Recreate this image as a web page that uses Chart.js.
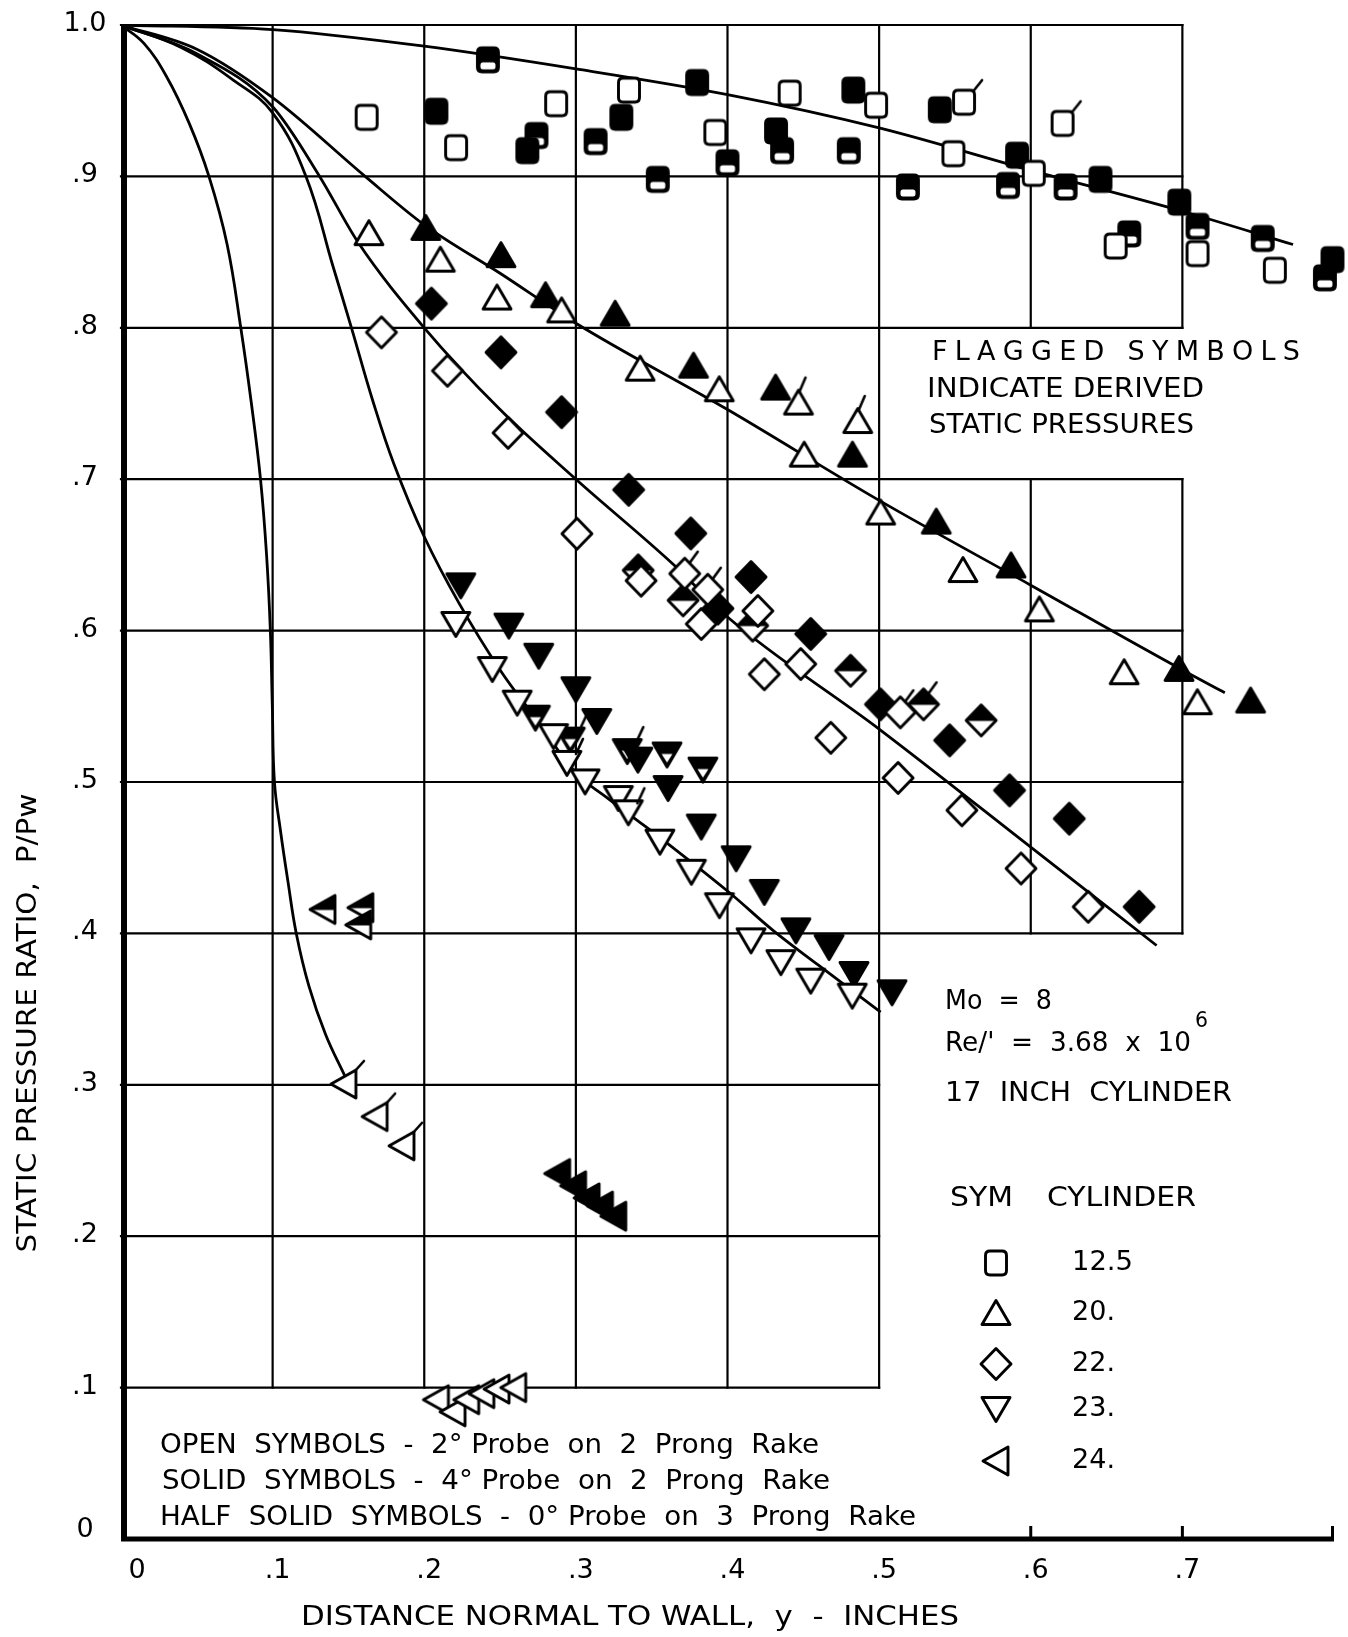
<!DOCTYPE html>
<html>
<head>
<meta charset="utf-8">
<script src="https://cdn.jsdelivr.net/npm/chart.js@4.4.0/dist/chart.umd.min.js"></script>
<style>
  html, body { margin: 0; padding: 0; background: #fff; }
  #wrap { width: 1348px; height: 1637px; position: relative; }
</style>
</head>
<body>
<div id="wrap"><canvas id="chart" width="1348" height="1637"></canvas></div>
<script>
// ---- Axis ticks ----
const xTickValues = [0, 0.1, 0.2, 0.3, 0.4, 0.5, 0.6, 0.7];
const xTickLabels = ['0', '.1', '.2', '.3', '.4', '.5', '.6', '.7'];
const yTickValues = [0, 0.1, 0.2, 0.3, 0.4, 0.5, 0.6, 0.7, 0.8, 0.9, 1.0];
const yTickLabels = ['0', '.1', '.2', '.3', '.4', '.5', '.6', '.7', '.8', '.9', '1.0'];
const cylinderLabels = ['12.5', '20.', '22.', '23.', '24.'];

// ---- Faired curves, [y (in), P/Pw] ----
const curveSquare = [[0,1],[.1,.997],[.2,.986],[.3,.971],[.4,.954],[.5,.932],[.6,.904],[.7,.877],[.773,.855]];
const curveTriUp = [[0,1],[.05,.984],[.1,.952],[.161,.9],[.2,.868],[.25,.836],[.3,.803],[.4,.746],[.5,.686],[.6,.63],[.7,.574],[.728,.559]];
const curveDiamond = [[0,1],[.05,.981],[.1,.946],[.131,.9],[.156,.857],[.2,.8],[.25,.746],[.3,.7],[.364,.644],[.4,.609],[.5,.535],[.6,.457],[.683,.392]];
const curveTriDown = [[0,1],[.04,.985],[.075,.963],[.1,.942],[.122,.9],[.14,.84],[.152,.8],[.166,.752],[.18,.71],[.2,.662],[.223,.618],[.25,.574],[.275,.54],[.3,.506],[.32,.49],[.34,.475],[.361,.459],[.4,.428],[.43,.402],[.46,.379],[.501,.348]];
const curveTriLeft = [[0,1],[.015,.988],[.03,.966],[.045,.935],[.058,.9],[.07,.855],[.079,.8],[.086,.75],[.092,.7],[.096,.65],[.0985,.6],[.0998,.55],[.1012,.5],[.1053,.467],[.11,.435],[.1156,.4],[.124,.365],[.135,.333],[.148,.305]];

// ---- Measured points: cylinder 12.5 (squares) ----
const squareOpen = [[.162,.939],[.221,.919],[.287,.948],[.335,.957],[.392,.929],[.441,.955],[.498,.947],[.549,.915],[.556,.949],[.602,.902],[.621,.935],[.656,.854],[.710,.849],[.761,.838]];
const squareOpenFlags = [8, 10];
const squareSolid = [[.208,.943],[.268,.917],[.33,.939],[.38,.962],[.432,.93],[.483,.957],[.54,.944],[.591,.914],[.646,.898],[.698,.883],[.799,.845]];
const squareHalf = [[.242,.977],[.274,.927],[.313,.923],[.354,.898],[.4,.909],[.436,.917],[.48,.917],[.519,.893],[.585,.894],[.623,.893],[.665,.862],[.710,.867],[.753,.859],[.794,.833]];

// ---- cylinder 20 (upward triangles) ----
const triUpOpen = [[.1635,.8625],[.2106,.845],[.248,.820],[.2906,.8115],[.3424,.773],[.3946,.7594],[.4468,.7506],[.4859,.7384],[.4506,.7162],[.501,.678],[.5553,.640],[.6057,.614],[.6616,.5725],[.7099,.5527]];
const triUpOpenFlags = [6, 7];
const triUpSolid = [[.201,.866],[.2506,.848],[.280,.8215],[.3259,.8093],[.3776,.775],[.4317,.7605],[.4824,.7162],[.5377,.672],[.587,.643],[.6978,.5747],[.745,.5538]];

// ---- cylinder 22 (diamonds) ----
const diamondOpen = [[.1718,.797],[.2153,.7716],[.2553,.7306],[.3007,.664],[.343,.633],[.3718,.6376],[.3827,.6044],[.387,.627],[.42,.613],[.4243,.5712],[.4483,.5779],[.4681,.5292],[.514,.546],[.5125,.5027],[.5546,.4813],[.5936,.4429],[.6379,.4176]];
const diamondOpenFlags = [5, 7, 12];
const diamondSolid = [[.2047,.816],[.2506,.7838],[.2906,.7443],[.3348,.693],[.3758,.6642],[.3937,.6146],[.4155,.6354],[.4549,.5978],[.5009,.5513],[.5465,.5275],[.586,.4945],[.6254,.4758],[.6715,.4176]];
const diamondHalf = [[.3411,.6398],[.3707,.620],[.4166,.6033],[.4812,.5735],[.5293,.5513],[.5673,.5407]];
const diamondHalfFlags = [4];

// ---- cylinder 23 (downward triangles) ----
const triDownOpen = [[.2208,.6044],[.2449,.5746],[.2613,.5524],[.2853,.5303],[.2941,.5126],[.3061,.5004],[.328,.4894],[.3346,.480],[.3554,.4606],[.3762,.4407],[.3947,.4186],[.4155,.3954],[.4352,.381],[.4549,.3688],[.4823,.3589]];
const triDownOpenFlags = [4, 7];
const triDownSolid = [[.2241,.6299],[.2558,.6033],[.2755,.5834],[.3,.5613],[.3138,.5403],[.3409,.5148],[.3608,.496],[.3827,.4706],[.4057,.4496],[.4243,.4274],[.4451,.402],[.467,.391],[.4834,.3732],[.5085,.3611]];
const triDownHalf = [[.2733,.5425],[.2963,.528],[.3339,.5204],[.3601,.5182],[.3838,.5082]];
const triDownHalfFlags = [1, 2];

// ---- cylinder 24 (leftward triangles) ----
const triLeftOpen = [[.147,.3005],[.1676,.279],[.1853,.2597],[.208,.092],[.219,.084],[.228,.092],[.238,.096],[.248,.099],[.259,.1]];
const triLeftOpenFlags = [0, 1, 2];
const triLeftHalf = [[.1332,.4158],[.1582,.417],[.1568,.4056]];
const triLeftSolid = [[.288,.2414],[.2985,.2333],[.3074,.2253],[.3162,.2199],[.325,.2132]];

const FONT = '"DejaVu Sans", "Liberation Sans", sans-serif';

// ---- Symbol sprites ----
function roundRectPath(g, x, y, w, h, r) {
  g.moveTo(x + r, y);
  g.lineTo(x + w - r, y); g.quadraticCurveTo(x + w, y, x + w, y + r);
  g.lineTo(x + w, y + h - r); g.quadraticCurveTo(x + w, y + h, x + w - r, y + h);
  g.lineTo(x + r, y + h); g.quadraticCurveTo(x, y + h, x, y + h - r);
  g.lineTo(x, y + r); g.quadraticCurveTo(x, y, x + r, y);
  g.closePath();
}
function shapePath(g, shape) {
  g.beginPath();
  if (shape === 'square') roundRectPath(g, -10.5, -12, 21, 24, 4.5);
  else if (shape === 'up') { g.moveTo(0, -12.5); g.lineTo(14, 11.5); g.lineTo(-14, 11.5); g.closePath(); }
  else if (shape === 'down') { g.moveTo(0, 12.5); g.lineTo(14, -11.5); g.lineTo(-14, -11.5); g.closePath(); }
  else if (shape === 'diamond') { g.moveTo(0, -15.5); g.lineTo(15, 0); g.lineTo(0, 15.5); g.lineTo(-15, 0); g.closePath(); }
  else if (shape === 'left') { g.moveTo(-13, 0); g.lineTo(12, -14); g.lineTo(12, 14); g.closePath(); }
}
const flagLines = {
  square: [10, -12, 18, -22],
  up: [1, -11, 7, -25],
  down: [9, -9, 16, -24],
  diamond: [5, -11, 13, -22],
  left: [11, -13, 20, -23]
};
function makeSymbol(shape, fill, flagged) {
  const S = 60;
  const c = document.createElement('canvas');
  c.width = S; c.height = S;
  const g = c.getContext('2d');
  g.translate(S / 2, S / 2);
  g.lineJoin = 'round';
  g.lineCap = 'round';
  g.strokeStyle = '#000';
  g.lineWidth = 2.9;
  shapePath(g, shape);
  g.fillStyle = fill === 'open' ? '#fff' : '#000';
  g.fill();
  if (fill === 'half') {
    g.save();
    shapePath(g, shape);
    g.clip();
    g.fillStyle = '#fff';
    g.beginPath();
    if (shape === 'square') roundRectPath(g, -7.5, 2.5, 15, 7, 2.5);
    else if (shape === 'down') { g.moveTo(-5.5, -0.5); g.lineTo(5.5, -0.5); g.lineTo(0, 8); g.closePath(); }
    else g.rect(-20, 0.5, 40, 20);
    g.fill();
    g.restore();
  }
  shapePath(g, shape);
  g.stroke();
  if (flagged) {
    const f = flagLines[shape];
    g.beginPath();
    g.lineWidth = 2.6;
    g.moveTo(f[0], f[1]);
    g.lineTo(f[2], f[3]);
    g.stroke();
  }
  return c;
}

const markerSets = [
  { pts: squareOpen, shape: 'square', fill: 'open', flags: squareOpenFlags },
  { pts: squareSolid, shape: 'square', fill: 'solid', flags: [] },
  { pts: squareHalf, shape: 'square', fill: 'half', flags: [] },
  { pts: triUpOpen, shape: 'up', fill: 'open', flags: triUpOpenFlags },
  { pts: triUpSolid, shape: 'up', fill: 'solid', flags: [] },
  { pts: diamondOpen, shape: 'diamond', fill: 'open', flags: diamondOpenFlags },
  { pts: diamondSolid, shape: 'diamond', fill: 'solid', flags: [] },
  { pts: diamondHalf, shape: 'diamond', fill: 'half', flags: diamondHalfFlags },
  { pts: triDownOpen, shape: 'down', fill: 'open', flags: triDownOpenFlags },
  { pts: triDownSolid, shape: 'down', fill: 'solid', flags: [] },
  { pts: triDownHalf, shape: 'down', fill: 'half', flags: triDownHalfFlags },
  { pts: triLeftOpen, shape: 'left', fill: 'open', flags: triLeftOpenFlags },
  { pts: triLeftHalf, shape: 'left', fill: 'half', flags: [] },
  { pts: triLeftSolid, shape: 'left', fill: 'solid', flags: [] }
];

// gentle curves use monotone cubic; the two steep ones use a parametric spline
const curves = [
  { pts: curveSquare, smooth: 'monotone' },
  { pts: curveTriUp, smooth: 'monotone' },
  { pts: curveDiamond, smooth: 'monotone' },
  { pts: curveTriDown, smooth: 'spline' },
  { pts: curveTriLeft, smooth: 'spline' }
];
const toXY = arr => arr.map(([x, y]) => ({ x, y }));

const datasets = [];
curves.forEach(c => {
  const ds = {
    type: 'line',
    data: toXY(c.pts),
    borderColor: '#000',
    borderWidth: 2.8,
    pointRadius: 0,
    fill: false,
    order: 10
  };
  if (c.smooth === 'monotone') ds.cubicInterpolationMode = 'monotone';
  else ds.tension = 0.4;
  datasets.push(ds);
});
markerSets.forEach(set => {
  const plain = makeSymbol(set.shape, set.fill, false);
  const flagged = makeSymbol(set.shape, set.fill, true);
  datasets.push({
    type: 'scatter',
    data: toXY(set.pts),
    pointStyle: ctx => (set.flags.includes(ctx.dataIndex) ? flagged : plain),
    pointRadius: 6,
    clip: false,
    order: 1
  });
});
const legendSymbols = ['square', 'up', 'diamond', 'down', 'left'].map(s => makeSymbol(s, 'open', false));

// ---- Text helpers ----
function fitText(ctx, str, x, y, size, width, align) {
  ctx.font = `${size}px ${FONT}`;
  const w = ctx.measureText(str).width;
  ctx.save();
  ctx.translate(align === 'center' ? x - width / 2 : x, y);
  ctx.scale(width / w, 1);
  ctx.textAlign = 'left';
  ctx.textBaseline = 'middle';
  ctx.fillText(str, 0, 0);
  ctx.restore();
}
function spacedText(ctx, str, x, y, size, width) {
  ctx.font = `${size}px ${FONT}`;
  ctx.textAlign = 'left';
  ctx.textBaseline = 'middle';
  const chars = [...str];
  const ws = chars.map(ch => ctx.measureText(ch).width);
  const total = ws.reduce((a, b) => a + b, 0);
  const gap = (width - total) / (chars.length - 1);
  let cx = x;
  chars.forEach((ch, i) => { ctx.fillText(ch, cx, y); cx += ws[i] + gap; });
}

const paperPlugin = {
  id: 'paper',
  beforeDraw(chart) {
    const ctx = chart.ctx;
    ctx.save();
    ctx.fillStyle = '#fff';
    ctx.fillRect(0, 0, chart.width, chart.height);
    ctx.restore();
  },
  beforeDatasetsDraw(chart) {
    const ctx = chart.ctx;
    const xs = chart.scales.x, ys = chart.scales.y;
    const X = v => xs.getPixelForValue(v), Y = v => ys.getPixelForValue(v);
    ctx.save();
    ctx.strokeStyle = '#000';
    ctx.lineCap = 'square';
    ctx.lineWidth = 2.2;
    // horizontal rulings: full width down to .4, narrower below
    [1.0, 0.9, 0.8, 0.7, 0.6, 0.5, 0.4].forEach(v => { ctx.beginPath(); ctx.moveTo(X(0), Y(v)); ctx.lineTo(X(0.7), Y(v)); ctx.stroke(); });
    [0.3, 0.2, 0.1].forEach(v => { ctx.beginPath(); ctx.moveTo(X(0), Y(v)); ctx.lineTo(X(0.5), Y(v)); ctx.stroke(); });
    // vertical rulings
    [0.1, 0.2, 0.3, 0.4, 0.5].forEach(v => { ctx.beginPath(); ctx.moveTo(X(v), Y(0.1)); ctx.lineTo(X(v), Y(1.0)); ctx.stroke(); });
    [0.6, 0.7].forEach(v => {
      ctx.beginPath(); ctx.moveTo(X(v), Y(1.0)); ctx.lineTo(X(v), Y(0.8)); ctx.stroke();
      ctx.beginPath(); ctx.moveTo(X(v), Y(0.7)); ctx.lineTo(X(v), Y(0.4)); ctx.stroke();
    });
    // heavy axes
    ctx.lineCap = 'butt';
    ctx.lineWidth = 6;
    ctx.beginPath(); ctx.moveTo(X(0) + 3, Y(0) + 2); ctx.lineTo(X(0) + 3, Y(1.0) - 1); ctx.stroke();
    ctx.lineWidth = 5;
    ctx.beginPath(); ctx.moveTo(X(0), Y(0)); ctx.lineTo(X(0.8), Y(0)); ctx.stroke();
    ctx.lineWidth = 3;
    [0.6, 0.7, 0.8].forEach(v => { ctx.beginPath(); ctx.moveTo(X(v) - (v === 0.8 ? 1.5 : 0), Y(0)); ctx.lineTo(X(v) - (v === 0.8 ? 1.5 : 0), Y(0) - 13); ctx.stroke(); });
    ctx.restore();
  },
  afterDatasetsDraw(chart) {
    const ctx = chart.ctx;
    const xs = chart.scales.x, ys = chart.scales.y;
    const X = v => xs.getPixelForValue(v), Y = v => ys.getPixelForValue(v);
    ctx.save();
    ctx.fillStyle = '#000';
    // tick labels
    ctx.font = `27px ${FONT}`;
    ctx.textAlign = 'center';
    ctx.textBaseline = 'middle';
    yTickValues.forEach((v, i) => ctx.fillText(yTickLabels[i], 85, Y(v) - (v === 0 ? 9 : 1)));
    xTickValues.forEach((v, i) => ctx.fillText(xTickLabels[i], X(v) + (v === 0 ? 16 : 5), 1571));
    // axis titles
    fitText(ctx, 'DISTANCE NORMAL TO WALL,  y  -  INCHES', 630, 1618, 27, 658, 'center');
    ctx.save();
    ctx.translate(29, 1023);
    ctx.rotate(-Math.PI / 2);
    fitText(ctx, 'STATIC PRESSURE RATIO,  P/Pw', 0, 0, 27, 459, 'center');
    ctx.restore();
    // notes
    spacedText(ctx, 'FLAGGED SYMBOLS', 932, 353, 27, 368);
    fitText(ctx, 'INDICATE DERIVED', 927, 390, 27, 277);
    fitText(ctx, 'STATIC PRESSURES', 929, 426, 27, 265);
    fitText(ctx, 'Mo  =  8', 945, 1002, 27, 107);
    fitText(ctx, "Re/'  =  3.68  x  10", 945, 1044, 27, 246);
    fitText(ctx, '6', 1195, 1021, 22, 13);
    fitText(ctx, '17  INCH  CYLINDER', 945, 1094, 27, 287);
    fitText(ctx, 'SYM', 950, 1199, 27, 63);
    fitText(ctx, 'CYLINDER', 1047, 1199, 27, 149);
    const rows = [1263, 1313, 1364, 1409, 1461];
    legendSymbols.forEach((sym, i) => {
      ctx.drawImage(sym, 996 - sym.width / 2, rows[i] - sym.height / 2);
      fitText(ctx, cylinderLabels[i], 1072, rows[i], 27, i === 0 ? 61 : 43);
    });
    fitText(ctx, 'OPEN  SYMBOLS  -  2° Probe  on  2  Prong  Rake', 160, 1446, 27, 659);
    fitText(ctx, 'SOLID  SYMBOLS  -  4° Probe  on  2  Prong  Rake', 162, 1482, 27, 668);
    fitText(ctx, 'HALF  SOLID  SYMBOLS  -  0° Probe  on  3  Prong  Rake', 160, 1518, 27, 756);
    ctx.restore();
  }
};

new Chart(document.getElementById('chart'), {
  type: 'scatter',
  data: { datasets },
  options: {
    responsive: false,
    animation: false,
    devicePixelRatio: 1,
    events: [],
    layout: { padding: { left: 121, right: 14, top: 25, bottom: 98 } },
    scales: {
      x: { type: 'linear', min: 0, max: 0.8, display: false },
      y: { type: 'linear', min: 0, max: 1, display: false }
    },
    plugins: { legend: { display: false }, tooltip: { enabled: false } }
  },
  plugins: [paperPlugin]
});
</script>
</body>
</html>
